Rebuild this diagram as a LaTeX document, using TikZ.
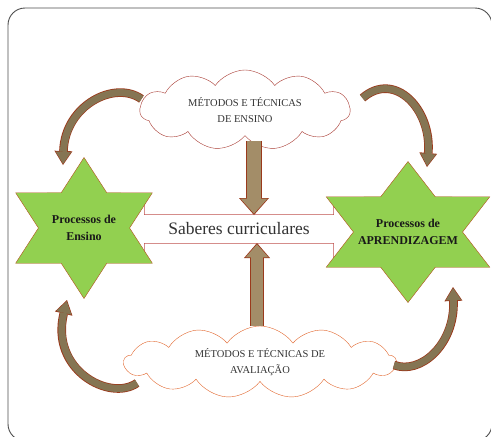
\documentclass[tikz,border=0pt]{standalone}
\usepackage{fontspec}
\setmainfont{Liberation Serif}
\usetikzlibrary{shapes.geometric,shapes.symbols,shapes.arrows,arrows.meta}

\definecolor{verde}{HTML}{92D050}
\definecolor{bordaverde}{HTML}{B4501E}
\definecolor{seta}{HTML}{A38D68}
\definecolor{setacurva}{HTML}{857553}
\definecolor{bordaseta}{HTML}{9A3A1C}
\definecolor{faixa}{HTML}{C0504D}
\definecolor{nuvemA}{HTML}{A83A32}
\definecolor{nuvemB}{HTML}{E2672E}
\definecolor{moldura}{HTML}{4D4D4D}

\newcommand\setadupla[2]{\draw[#1] #2; \draw[#1 dentro] #2;}

\begin{document}
\begin{tikzpicture}[x=1pt,y=-1pt,
  estrela/.style={star, star points=6, star point ratio=1.732, minimum size=141pt,
    inner sep=0pt, draw=bordaverde, fill=verde},
  rotulo/.style={align=center, font=\fontsize{12}{17.5}\selectfont\bfseries, text=black!90},
  nuvem/.style={cloud, cloud ignores aspect, cloud puff arc=110, fill=white, align=center,
    font=\fontsize{10.5}{16}\selectfont, text=black!80, inner sep=0pt},
  descer/.style={line width=16pt, bordaseta, -{Triangle[width=30pt,length=17pt,line width=0pt]}},
  descer dentro/.style={line width=14pt, seta, shorten >=1.4pt, -{Triangle[width=27pt,length=15pt,line width=0pt]}},
  subir/.style={line width=14pt, bordaseta, -{Triangle[width=26pt,length=15pt,line width=0pt]}},
  subir dentro/.style={line width=12pt, seta, shorten >=1.4pt, -{Triangle[width=23pt,length=13pt,line width=0pt]}},
  curva/.style={line width=8.6pt, bordaseta, -{Triangle[width=18pt,length=14pt,line width=0pt]}},
  curva dentro/.style={line width=7pt, setacurva, shorten >=1.2pt, -{Triangle[width=15.5pt,length=12pt,line width=0pt]}}]
\useasboundingbox (0,0) rectangle (491,437);
\draw[moldura, line width=0.9pt, rounded corners=17pt] (8,8) rectangle (492,441);

\node[double arrow, double arrow head extend=15pt, minimum height=248pt,
  inner xsep=0pt, inner ysep=8pt, draw=faixa, fill=white, font=\fontsize{17.5}{20}\selectfont, text=black!80]
  (saberes) at (239,229) {Saberes curriculares};

\node[estrela, xscale=1.12] (pensino) at (84,228) {};
\node[rotulo] (tensino) at (84,228) {Processos de\\Ensino};
\node[estrela, xscale=1.34] (paprend) at (408,232) {};
\node[rotulo] (taprend) at (408,232) {Processos de\\APRENDIZAGEM};

\node[nuvem, draw=nuvemA, cloud puffs=11, minimum width=210pt, minimum height=80pt]
  (metensino) at (245,110) {MÉTODOS E TÉCNICAS\\DE ENSINO};
\node[nuvem, draw=nuvemB, cloud puffs=13, minimum width=272pt, minimum height=72pt]
  (metaval) at (260,362) {MÉTODOS E TÉCNICAS DE\\AVALIAÇÃO};

\setadupla{descer}{([xshift=9pt,yshift=-5pt]metensino.south) -- ([xshift=15pt,yshift=14pt]saberes.center)}
\setadupla{subir}{([xshift=-3pt]metaval.north) -- ([xshift=18pt,yshift=-14pt]saberes.center)}

\setadupla{curva}{([xshift=2pt,yshift=11pt]metensino.west) .. controls (115,80) and (65,105) .. ([xshift=-21pt,yshift=63pt]pensino.center)}
\setadupla{curva}{([xshift=12pt,yshift=12pt]metensino.east) .. controls (395,70) and (432,110) .. ([xshift=19pt,yshift=65pt]paprend.center)}
\setadupla{curva}{([xshift=14pt,yshift=-21pt]metaval.west) .. controls (110,402) and (50,370) .. ([xshift=-17pt,yshift=-72pt]pensino.center)}
\setadupla{curva}{([xshift=-3pt,yshift=-3pt]metaval.east) .. controls (420,375) and (455,345) .. ([xshift=45pt,yshift=-55pt]paprend.center)}
\end{tikzpicture}
\end{document}
